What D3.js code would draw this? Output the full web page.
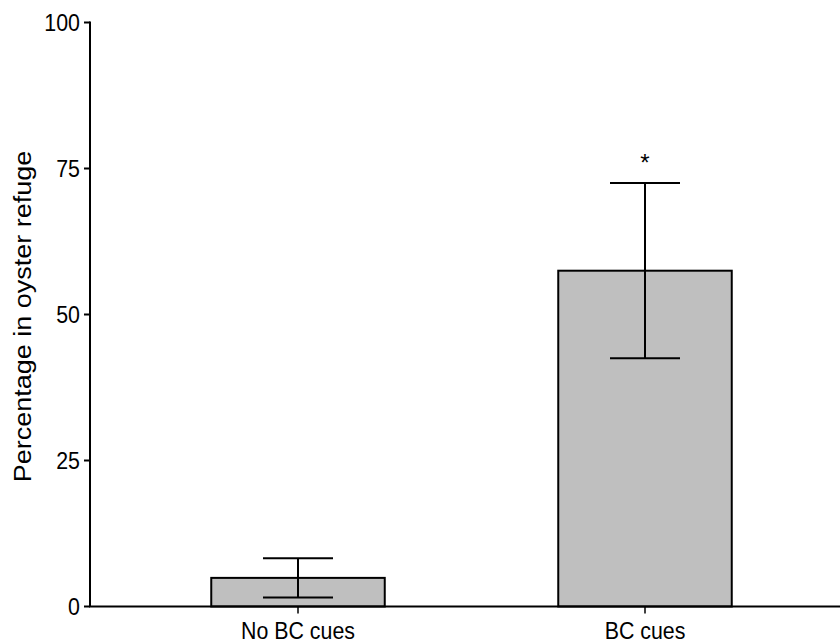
<!DOCTYPE html>
<html>
<head>
<meta charset="utf-8">
<script src="https://cdn.jsdelivr.net/npm/d3@7"></script>
<style>
  html, body { margin: 0; padding: 0; background: #fff; }
  svg { display: block; }
  text { font-family: "Liberation Sans", Arial, Helvetica, sans-serif; fill: #000; }
</style>
</head>
<body>
<svg id="chart" width="840" height="644"></svg>
<script>
// Treatment groups and their means with error-bar half-widths (%)
const categories = ["No BC cues", "BC cues"];
const means = [4.9, 57.5];
const errors = [3.35, 15.0];
const significance = ["", "*"];
const yTicks = [0, 25, 50, 75, 100];
const yLabel = "Percentage in oyster refuge";

const svg = d3.select("#chart");
const xAxisLeft = 90, xAxisRight = 840;
const yTop = 22.5, yBottom = 606.5;
const squeeze = 0.89; // horizontally condensed lettering

const y = d3.scaleLinear().domain([0, 100]).range([yBottom, yTop]);
const x = d3.scaleBand().domain(categories).range([124.5, 818.5])
  .paddingInner(0.5).paddingOuter(0.25);

// Bars
svg.selectAll("rect.bar")
  .data(categories)
  .enter().append("rect")
  .attr("class", "bar")
  .attr("x", d => x(d))
  .attr("width", x.bandwidth())
  .attr("y", (d, i) => y(means[i]))
  .attr("height", (d, i) => y(0) - y(means[i]))
  .attr("fill", "#bfbfbf")
  .attr("stroke", "#000")
  .attr("stroke-width", 2);

// Error bars
const capHalf = 35;
const eb = svg.selectAll("g.err")
  .data(categories)
  .enter().append("g")
  .attr("class", "err")
  .attr("stroke", "#000")
  .attr("stroke-width", 2);
eb.append("line")
  .attr("x1", d => x(d) + x.bandwidth() / 2)
  .attr("x2", d => x(d) + x.bandwidth() / 2)
  .attr("y1", (d, i) => y(means[i] + errors[i]))
  .attr("y2", (d, i) => y(means[i] - errors[i]));
eb.append("line")
  .attr("x1", d => x(d) + x.bandwidth() / 2 - capHalf)
  .attr("x2", d => x(d) + x.bandwidth() / 2 + capHalf)
  .attr("y1", (d, i) => y(means[i] + errors[i]))
  .attr("y2", (d, i) => y(means[i] + errors[i]));
eb.append("line")
  .attr("x1", d => x(d) + x.bandwidth() / 2 - capHalf)
  .attr("x2", d => x(d) + x.bandwidth() / 2 + capHalf)
  .attr("y1", (d, i) => y(means[i] - errors[i]))
  .attr("y2", (d, i) => y(means[i] - errors[i]));

// Significance marks
svg.selectAll("g.sig")
  .data(categories)
  .enter().append("g")
  .attr("class", "sig")
  .attr("transform", (d, i) => `translate(${x(d) + x.bandwidth() / 2},${y(means[i] + errors[i]) - 12})`)
  .append("text")
  .attr("text-anchor", "middle")
  .attr("font-size", 24)
  .text((d, i) => significance[i]);

// Y axis
const yAxis = svg.append("g").attr("transform", `translate(${xAxisLeft},0)`);
yAxis.append("line")
  .attr("x1", 0).attr("x2", 0)
  .attr("y1", y(100) - 1).attr("y2", y(0))
  .attr("stroke", "#000").attr("stroke-width", 2);
const yt = yAxis.selectAll("g.tick").data(yTicks).enter().append("g")
  .attr("class", "tick")
  .attr("transform", d => `translate(0,${y(d)})`);
yt.append("line").attr("x1", -6).attr("x2", 0).attr("stroke", "#000").attr("stroke-width", 2);
yt.append("g")
  .attr("transform", `translate(-10,0) scale(${squeeze},1)`)
  .append("text")
  .attr("text-anchor", "end")
  .attr("dy", "0.35em")
  .attr("font-size", 24)
  .text(d => d);

// X axis
const xAxis = svg.append("g").attr("transform", `translate(0,${y(0)})`);
xAxis.append("line")
  .attr("x1", xAxisLeft - 1).attr("x2", xAxisRight)
  .attr("stroke", "#000").attr("stroke-width", 2);
const xt = xAxis.selectAll("g.tick").data(categories).enter().append("g")
  .attr("class", "tick")
  .attr("transform", d => `translate(${x(d) + x.bandwidth() / 2},0)`);
xt.append("line").attr("y1", 0).attr("y2", 7).attr("stroke", "#000").attr("stroke-width", 1.5);
xt.append("g")
  .attr("transform", `translate(0,32.5) scale(${squeeze},1)`)
  .append("text")
  .attr("text-anchor", "middle")
  .attr("font-size", 24)
  .text(d => d);

// Y axis title
svg.append("g")
  .attr("transform", `translate(31,${(yTop + yBottom) / 2 + 2}) scale(${squeeze},1) rotate(-90)`)
  .append("text")
  .attr("text-anchor", "middle")
  .attr("font-size", 27)
  .text(yLabel);
</script>
</body>
</html>
